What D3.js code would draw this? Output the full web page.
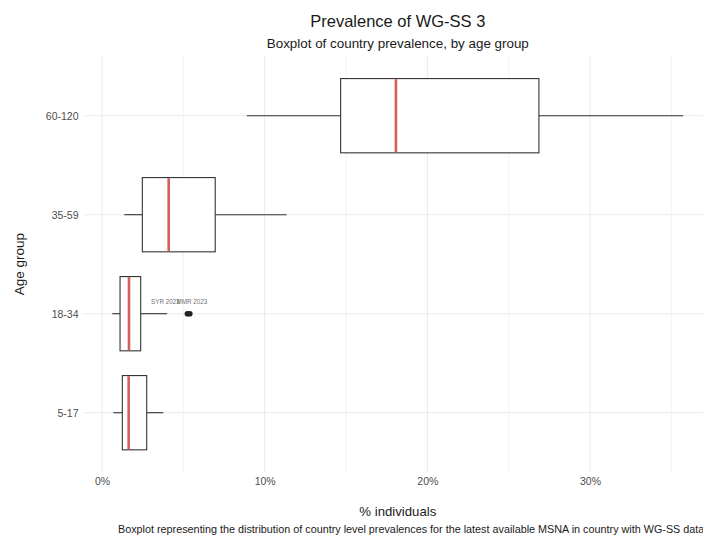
<!DOCTYPE html>
<html>
<head>
<meta charset="utf-8">
<script src="https://cdn.jsdelivr.net/npm/d3@7"></script>
<style>
body { margin: 0; background: #fff; }
text { font-family: "Liberation Sans", Arial, Helvetica, sans-serif; }
</style>
</head>
<body>
<svg id="chart" width="703" height="536"></svg>
<script>
// ---- data (values in %) ----
const ageGroups = ["60-120", "35-59", "18-34", "5-17"];
const whiskerLow = [8.9, 1.37, 0.63, 0.70];
const q1 = [14.67, 2.48, 1.11, 1.25];
const median = [18.07, 4.10, 1.66, 1.64];
const q3 = [26.86, 6.96, 2.38, 2.75];
const whiskerHigh = [35.73, 11.35, 4.01, 3.77];
const outlierGroup = ["18-34", "18-34"];
const outlierValue = [5.25, 5.40];
const outlierLabel = ["SYR 2023", "MMR 2023"];
const xTicks = [0, 10, 20, 30];
const xMinorTicks = [5, 15, 25, 35];

const svg = d3.select("#chart");
const panel = { left: 83.6, right: 712.0, top: 56.3, bottom: 472.1 };

const x = d3.scaleLinear().domain([-1.13, 37.5]).range([panel.left, panel.right]);
const y = d3.scalePoint().domain(ageGroups).range([panel.top, panel.bottom]).padding(0.6);
const half = y.step() * 0.375;

// grid
const grid = svg.append("g");
grid.selectAll(".minor").data(xMinorTicks).join("line")
  .attr("x1", d => x(d)).attr("x2", d => x(d))
  .attr("y1", panel.top).attr("y2", panel.bottom)
  .attr("stroke", "#ebebeb").attr("stroke-width", 0.6);
grid.selectAll(".major").data(xTicks).join("line")
  .attr("x1", d => x(d)).attr("x2", d => x(d))
  .attr("y1", panel.top).attr("y2", panel.bottom)
  .attr("stroke", "#ebebeb").attr("stroke-width", 1.1);
grid.selectAll(".hmajor").data(ageGroups).join("line")
  .attr("x1", panel.left).attr("x2", panel.right)
  .attr("y1", d => y(d)).attr("y2", d => y(d))
  .attr("stroke", "#ebebeb").attr("stroke-width", 1.1);

// x axis
const xAxis = d3.axisBottom(x).tickValues(xTicks).tickFormat(d => d + "%").tickSize(0).tickPadding(0);
const gx = svg.append("g").attr("transform", `translate(0,${panel.bottom + 4})`).call(xAxis);
gx.select(".domain").remove();
gx.selectAll("text").attr("fill", "#4d4d4d").style("font-size", "10.5px").attr("dy", "0.85em");

// y axis
const yAxis = d3.axisLeft(y).tickSize(0).tickPadding(0);
const gy = svg.append("g").attr("transform", `translate(${78.5},0)`).call(yAxis);
gy.select(".domain").remove();
gy.selectAll("text").attr("fill", "#4d4d4d").style("font-size", "10.5px");

// boxes
const rows = ageGroups.map((g, i) => ({ g, lo: whiskerLow[i], q1: q1[i], med: median[i], q3: q3[i], hi: whiskerHigh[i] }));
const boxes = svg.append("g");
rows.forEach(r => {
  const cy = y(r.g);
  boxes.append("line").attr("x1", x(r.lo)).attr("x2", x(r.q1)).attr("y1", cy).attr("y2", cy)
    .attr("stroke", "#333").attr("stroke-width", 1.1);
  boxes.append("line").attr("x1", x(r.q3)).attr("x2", x(r.hi)).attr("y1", cy).attr("y2", cy)
    .attr("stroke", "#333").attr("stroke-width", 1.1);
  boxes.append("rect").attr("x", x(r.q1)).attr("y", cy - half)
    .attr("width", x(r.q3) - x(r.q1)).attr("height", 2 * half)
    .attr("fill", "#fff").attr("stroke", "#333").attr("stroke-width", 1.1);
  boxes.append("line").attr("x1", x(r.med)).attr("x2", x(r.med))
    .attr("y1", cy - half + 0.6).attr("y2", cy + half - 0.6)
    .attr("stroke", "#d35f5f").attr("stroke-width", 2.6);
});

// outliers
const outs = outlierValue.map((v, i) => ({ g: outlierGroup[i], v, label: outlierLabel[i] }));
svg.append("g").selectAll("circle").data(outs).join("circle")
  .attr("cx", d => x(d.v)).attr("cy", d => y(d.g)).attr("r", 2.8)
  .attr("fill", "#222");
const labelDx = [-22, 2];
svg.append("g").selectAll("text").data(outs).join("text")
  .attr("x", (d, i) => x(d.v) + labelDx[i]).attr("y", d => y(d.g) - 10)
  .attr("text-anchor", "middle").attr("fill", "#4d4d4d").attr("fill-opacity", 0.85)
  .style("font-size", "6.3px").text(d => d.label);

// titles
const cx = (panel.left + panel.right) / 2;
svg.append("text").attr("x", cx).attr("y", 27).attr("text-anchor", "middle")
  .attr("fill", "#1a1a1a").style("font-size", "16.5px").text("Prevalence of WG-SS 3");
svg.append("text").attr("x", cx).attr("y", 48).attr("text-anchor", "middle")
  .attr("fill", "#1a1a1a").style("font-size", "13.4px").text("Boxplot of country prevalence, by age group");
svg.append("text").attr("x", cx).attr("y", 516).attr("text-anchor", "middle")
  .attr("fill", "#1a1a1a").style("font-size", "13.2px").text("% individuals");
svg.append("text").attr("transform", `translate(24,${(panel.top + panel.bottom) / 2}) rotate(-90)`)
  .attr("text-anchor", "middle").attr("fill", "#1a1a1a").style("font-size", "13.5px").text("Age group");
svg.append("text").attr("x", 118).attr("y", 533).attr("text-anchor", "start")
  .attr("fill", "#1a1a1a").style("font-size", "10.8px")
  .text("Boxplot representing the distribution of country level prevalences for the latest available MSNA in country with WG-SS data");
</script>
</body>
</html>
